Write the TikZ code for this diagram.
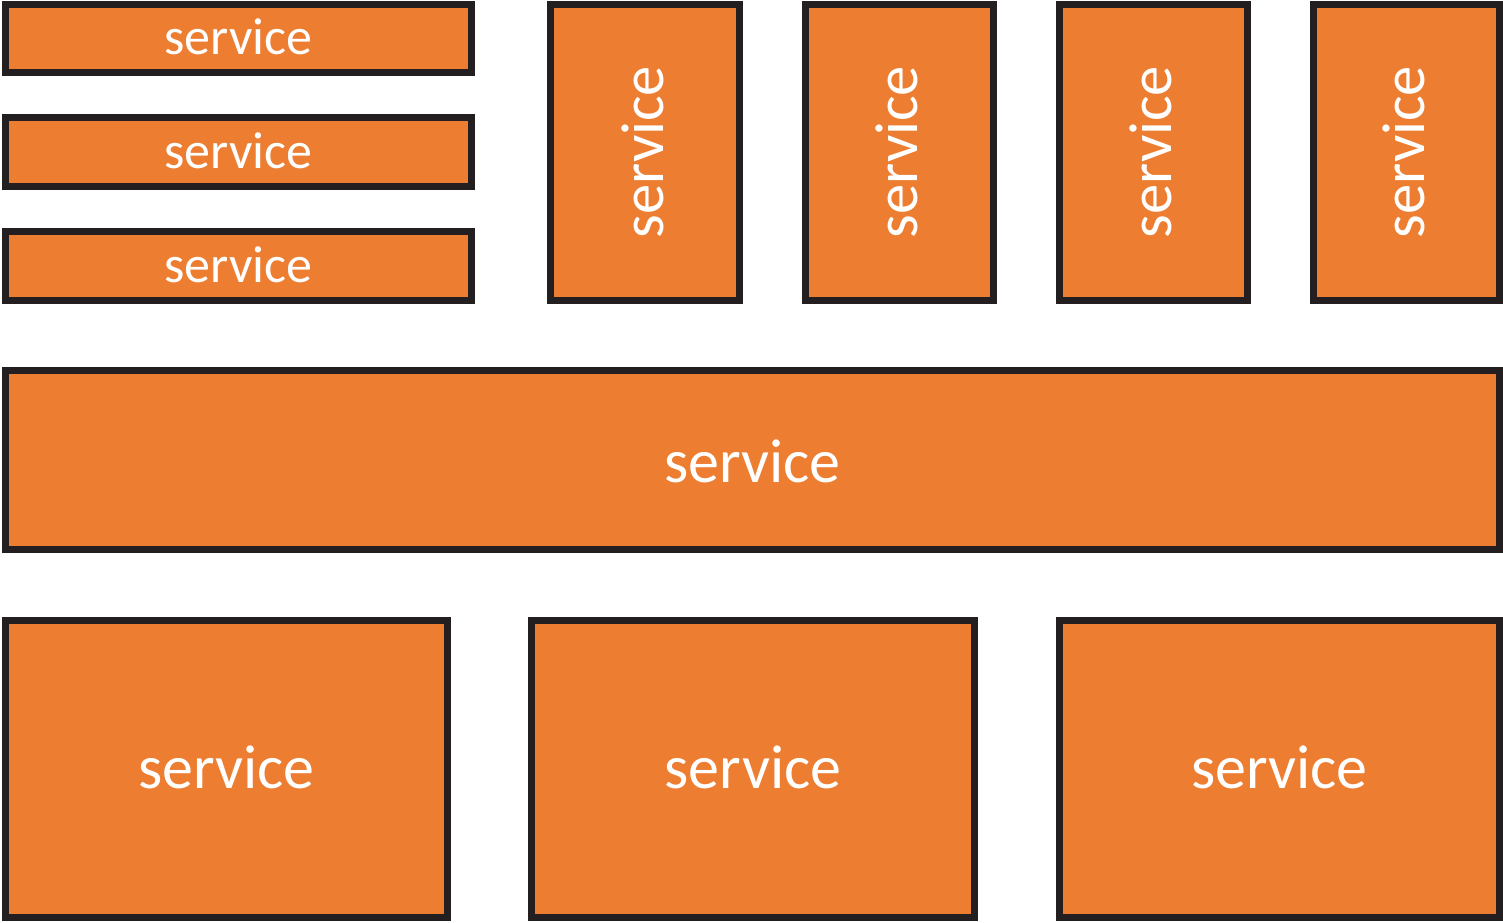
\documentclass[tikz,border=0pt]{standalone}
\usepackage{fontspec}
\setmainfont{Carlito}
\usetikzlibrary{fit,calc}
\definecolor{svcfill}{HTML}{ED7D31}
\definecolor{svcline}{HTML}{231F20}
\tikzset{
  svc/.style={draw=svcline, fill=svcfill, line width=5.6pt, inner sep=0pt, outer sep=0pt},
  lbl/.style={text=white, inner sep=0pt, anchor=base},
  small/.style={lbl, font=\fontsize{39}{39}\selectfont},
  large/.style={lbl, font=\fontsize{46.5}{46.5}\selectfont},
  upright/.style={lbl, rotate=90, font=\fontsize{45.5}{45.5}\selectfont},
}
\begin{document}
\begin{tikzpicture}[x=0.75pt, y=-0.75pt]
  \useasboundingbox (0,0) rectangle (1503,923);
  % three stacked services, top left
  \node[svc, fit={(5.75,4.25) (471.25,72.25)}] (s1) {};
  \node[svc, fit={(5.75,117.75) (471.25,186.25)}] (s2) {};
  \node[svc, fit={(5.75,231.75) (471.25,300.25)}] (s3) {};
  % four tall services, top right
  \node[svc, fit={(550.75,4.25) (739.25,300.25)}] (v1) {};
  \node[svc, fit={(805.75,4.25) (993.25,300.25)}] (v2) {};
  \node[svc, fit={(1059.75,4.25) (1247.25,300.25)}] (v3) {};
  \node[svc, fit={(1313.75,4.25) (1499.25,300.25)}] (v4) {};
  % wide shared service
  \node[svc, fit={(5.75,370.75) (1499.25,549.25)}] (w) {};
  % three services, bottom row
  \node[svc, fit={(5.75,620.75) (447.25,917.25)}] (b1) {};
  \node[svc, fit={(531.75,620.75) (974.25,917.25)}] (b2) {};
  \node[svc, fit={(1059.75,620.75) (1499.25,917.25)}] (b3) {};

  \node[small] (ts1) at ($(s1.center)+(0,16.5)$) {service};
  \node[small] (ts2) at ($(s2.center)+(0,16.5)$) {service};
  \node[small] (ts3) at ($(s3.center)+(0,16.5)$) {service};
  \node[upright] (tv1) at ($(v1.center)+(18,0)$) {service};
  \node[upright] (tv2) at ($(v2.center)+(18,0)$) {service};
  \node[upright] (tv3) at ($(v3.center)+(18,0)$) {service};
  \node[upright] (tv4) at ($(v4.center)+(18,0)$) {service};
  \node[large] (tw) at ($(w.center)+(0,22)$) {service};
  \node[large] (tb1) at ($(b1.center)+(0,19)$) {service};
  \node[large] (tb2) at ($(b2.center)+(0,19)$) {service};
  \node[large] (tb3) at ($(b3.center)+(0,19)$) {service};
\end{tikzpicture}
\end{document}
